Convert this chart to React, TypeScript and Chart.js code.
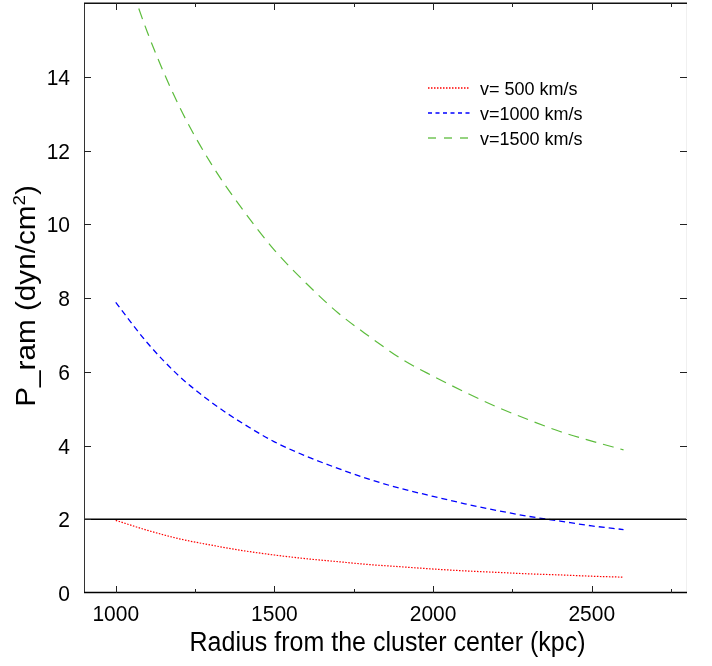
import React, { useEffect, useRef } from "react";
import { Chart, registerables } from "chart.js";
Chart.register(...registerables);

// ---- data ----
const radiusKpc = [1000, 1100, 1200, 1300, 1400, 1500, 1600, 1700, 1800, 1900, 2000, 2100, 2200, 2300, 2400, 2500, 2600];
const pramV500 = [1.97, 1.7, 1.47, 1.3, 1.15, 1.03, 0.93, 0.85, 0.77, 0.71, 0.65, 0.6, 0.56, 0.52, 0.49, 0.455, 0.43];
const pramV1000 = [7.88, 6.78, 5.88, 5.18, 4.6, 4.1, 3.71, 3.38, 3.08, 2.83, 2.62, 2.42, 2.24, 2.08, 1.95, 1.82, 1.72];
const pramV1500 = [17.7, 15.2, 13.2, 11.65, 10.4, 9.3, 8.4, 7.6, 6.95, 6.35, 5.88, 5.45, 5.05, 4.7, 4.38, 4.12, 3.88];
const thresholdP = 2;

const seriesLabels = ["v= 500 km/s", "v=1000 km/s", "v=1500 km/s"];
const seriesColors = ["#ff0000", "#0000ff", "#5cbc3c"];
const seriesDash = [[1.5, 1.5], [6, 4], [11, 7]];
const legendDash = [[1.5, 1.5], [4, 3.5], [8, 8]];

const xRange = [900, 2800];
const yRange = [0, 16];
const xMajorTicks = [1000, 1500, 2000, 2500];
const xMinorTicks = [1250, 1750, 2250, 2750];
const yMajorTicks = [0, 2, 4, 6, 8, 10, 12, 14];
const xTitle = "Radius from the cluster center (kpc)";
const yTitleMain = "P_ram (dyn/cm";
const yTitleSup = "2";
const yTitleEnd = ")";

const FONT = '"Liberation Sans", Arial, Helvetica, sans-serif';

const gnuplotFrame = {
  id: "gnuplotFrame",
  afterDatasetsDraw(chart: any) {
    const { ctx, chartArea: a, scales } = chart;
    const xs = scales.x;
    const ys = scales.y;
    ctx.save();
    ctx.setLineDash([]);
    const seg = (x1: number, y1: number, x2: number, y2: number, c: string, w: number) => {
      ctx.strokeStyle = c;
      ctx.lineWidth = w;
      ctx.beginPath();
      ctx.moveTo(x1, y1);
      ctx.lineTo(x2, y2);
      ctx.stroke();
    };
    // frame
    seg(a.left + 0.5, a.top, a.left + 0.5, a.bottom, "#333", 1);
    seg(a.right - 0.5, a.top, a.right - 0.5, a.bottom, "#f0f0f0", 1);
    seg(a.left, a.top + 0.25, a.right, a.top + 0.25, "#111", 1.5);
    seg(a.left, a.bottom - 0.5, a.right, a.bottom - 0.5, "#000", 1.6);
    // x ticks (inward, mirrored)
    xMajorTicks.forEach((v) => {
      const px = Math.round(xs.getPixelForValue(v)) + 0.5;
      seg(px, a.bottom, px, a.bottom - 7, "#222", 1);
      seg(px, a.top, px, a.top + 7, "#222", 1);
    });
    xMinorTicks.forEach((v) => {
      const px = Math.round(xs.getPixelForValue(v)) + 0.5;
      seg(px, a.bottom, px, a.bottom - 4, "#222", 1);
      seg(px, a.top, px, a.top + 4, "#222", 1);
    });
    yMajorTicks.forEach((v) => {
      if (v === 0) return;
      const py = Math.round(ys.getPixelForValue(v)) + 0.5;
      seg(a.left, py, a.left + 7, py, "#222", 1);
      seg(a.right, py, a.right - 7, py, "#222", 1);
    });
    // stretched text helper (tall, like the reference glyphs)
    const text = (s: string, x: number, y: number, k: number) => {
      ctx.save();
      ctx.translate(x, y);
      ctx.scale(1, k);
      ctx.fillText(s, 0, 0);
      ctx.restore();
    };
    // tick labels
    ctx.fillStyle = "#000";
    ctx.font = `21px ${FONT}`;
    ctx.textAlign = "right";
    ctx.textBaseline = "alphabetic";
    yMajorTicks.forEach((v) => {
      const py = ys.getPixelForValue(v);
      text(String(v), 70, py + 8, 1.08);
    });
    ctx.textAlign = "center";
    xMajorTicks.forEach((v) => {
      const px = xs.getPixelForValue(v);
      text(String(v), px, 621, 1.08);
    });
    // x title
    ctx.font = `25px ${FONT}`;
    text(xTitle, (a.left + a.right) / 2 + 2, 651, 1.1);
    // y title (rotated, stretched along its length)
    ctx.save();
    ctx.translate(35, 296);
    ctx.rotate(-Math.PI / 2);
    ctx.scale(1.1, 1);
    ctx.textAlign = "left";
    const mainF = `27px ${FONT}`;
    const supF = `17px ${FONT}`;
    ctx.font = mainF;
    const w1 = ctx.measureText(yTitleMain).width;
    ctx.font = supF;
    const w2 = ctx.measureText(yTitleSup).width;
    ctx.font = mainF;
    const w3 = ctx.measureText(yTitleEnd).width;
    const total = w1 + w2 + w3;
    let x0 = -total / 2;
    ctx.fillText(yTitleMain, x0, 0);
    x0 += w1;
    ctx.font = supF;
    ctx.fillText(yTitleSup, x0, -10);
    x0 += w2;
    ctx.font = mainF;
    ctx.fillText(yTitleEnd, x0, 0);
    ctx.restore();
    // legend
    const rows = [88, 113, 138];
    ctx.font = `18px ${FONT}`;
    ctx.textAlign = "left";
    seriesLabels.forEach((lab, i) => {
      const y = rows[i];
      ctx.setLineDash(legendDash[i]);
      seg(428, y, 470, y, seriesColors[i], 1.3);
      ctx.setLineDash([]);
      ctx.fillStyle = "#000";
      ctx.fillText(lab, 480, y + 6.5);
    });
    ctx.restore();
  },
};

export default function App() {
  const ref = useRef<HTMLCanvasElement>(null);
  useEffect(() => {
    document.body.style.margin = "0";
    const series = [pramV500, pramV1000, pramV1500];
    const datasets: any[] = series.map((vals, i) => ({
      label: seriesLabels[i],
      data: radiusKpc.map((r, j) => ({ x: r, y: vals[j] })),
      borderColor: seriesColors[i],
      borderDash: seriesDash[i],
      borderWidth: i === 1 ? 1.3 : 1.2,
      pointRadius: 0,
      cubicInterpolationMode: "monotone",
      fill: false,
      clip: 0,
    }));
    datasets.unshift({
      label: "threshold",
      data: [
        { x: xRange[0], y: thresholdP },
        { x: xRange[1], y: thresholdP },
      ],
      borderColor: "#000",
      borderWidth: 1.3,
      pointRadius: 0,
      fill: false,
      clip: 0,
    });
    const chart = new Chart(ref.current as HTMLCanvasElement, {
      type: "line",
      data: { datasets },
      options: {
        animation: false,
        responsive: true,
        maintainAspectRatio: false,
        layout: { padding: { top: 3, right: 25, left: 0, bottom: 0 } },
        plugins: {
          legend: { display: false },
          tooltip: { enabled: false },
          title: { display: false },
        },
        scales: {
          x: {
            type: "linear",
            min: xRange[0],
            max: xRange[1],
            grid: { display: false, drawTicks: false },
            border: { display: false },
            ticks: { display: false },
            afterBuildTicks: (s: any) => {
              s.ticks = xMajorTicks.map((v) => ({ value: v }));
            },
            afterFit: (s: any) => {
              s.height = 73;
            },
          },
          y: {
            type: "linear",
            min: yRange[0],
            max: yRange[1],
            grid: { display: false, drawTicks: false },
            border: { display: false },
            ticks: { display: false },
            afterBuildTicks: (s: any) => {
              s.ticks = yMajorTicks.map((v) => ({ value: v }));
            },
            afterFit: (s: any) => {
              s.width = 84;
            },
          },
        },
      } as any,
      plugins: [gnuplotFrame],
    });
    return () => chart.destroy();
  }, []);
  return (
    <div style={{ position: "relative", width: 712, height: 666 }}>
      <canvas ref={ref} />
    </div>
  );
}
